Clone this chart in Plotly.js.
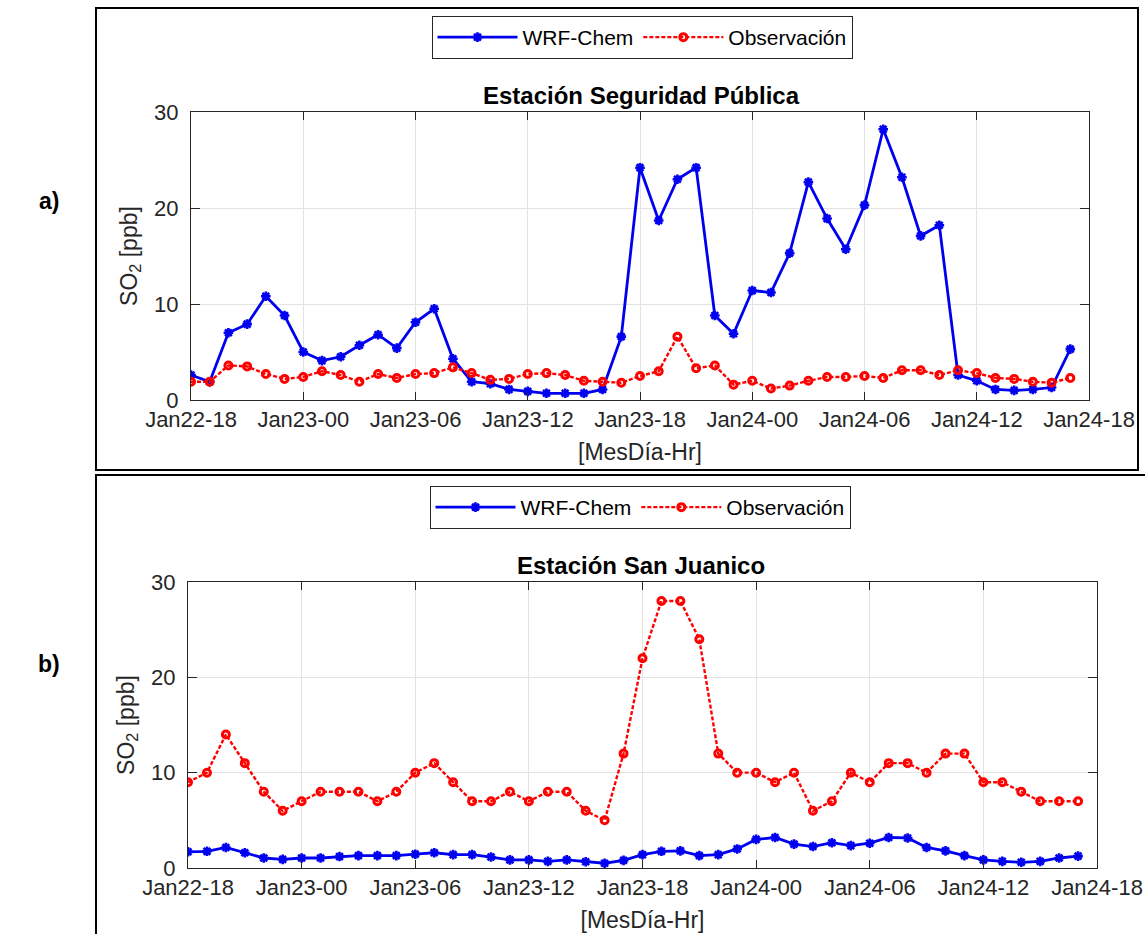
<!DOCTYPE html>
<html>
<head>
<meta charset="utf-8">
<script src="https://cdn.plot.ly/plotly-3.0.1.min.js"></script>
<style>
  html, body { margin: 0; padding: 0; background: #fff; }
  #chart { width: 1145px; height: 934px; }
</style>
</head>
<body>
<div id="chart"></div>
<script>
// ---------- DATA ----------
const startTime = '2020-01-22T18:00:00';
const nHours = 48;
const tickTimes = ['2020-01-22 18:00','2020-01-23 00:00','2020-01-23 06:00','2020-01-23 12:00',
                   '2020-01-23 18:00','2020-01-24 00:00','2020-01-24 06:00','2020-01-24 12:00','2020-01-24 18:00'];
const tickLabels = ['Jan22-18','Jan23-00','Jan23-06','Jan23-12','Jan23-18','Jan24-00','Jan24-06','Jan24-12','Jan24-18'];
const yTicks = [0, 10, 20, 30];

// Panel a) Estación Seguridad Pública
const wrfA = [2.6, 1.9, 7.0, 7.9, 10.8, 8.8, 5.0, 4.1, 4.5, 5.7, 6.8, 5.4, 8.1, 9.5, 4.3, 1.9,
              1.7, 1.1, 0.9, 0.7, 0.7, 0.7, 1.1, 6.6, 24.2, 18.7, 23.0, 24.2, 8.8, 6.9, 11.4, 11.2,
              15.3, 22.7, 18.9, 15.7, 20.3, 28.2, 23.2, 17.1, 18.2, 2.6, 2.0, 1.1, 1.0, 1.1, 1.3, 5.3];
const obsA = [1.9, 1.9, 3.6, 3.5, 2.7, 2.2, 2.4, 3.0, 2.6, 1.9, 2.7, 2.3, 2.7, 2.8, 3.4, 2.8,
              2.1, 2.2, 2.7, 2.8, 2.6, 2.0, 1.9, 1.8, 2.5, 3.0, 6.6, 3.3, 3.6, 1.6, 2.0, 1.2,
              1.5, 2.0, 2.4, 2.4, 2.5, 2.3, 3.1, 3.1, 2.6, 3.1, 2.8, 2.3, 2.2, 1.9, 1.8, 2.3];

// Panel b) Estación San Juanico
const wrfB = [1.7, 1.75, 2.15, 1.6, 1.05, 0.9, 1.05, 1.05, 1.2, 1.3, 1.3, 1.3, 1.45, 1.6, 1.4, 1.4,
              1.15, 0.85, 0.85, 0.7, 0.85, 0.65, 0.5, 0.8, 1.4, 1.75, 1.8, 1.3, 1.4, 2.0, 3.0, 3.2,
              2.5, 2.25, 2.65, 2.35, 2.6, 3.2, 3.15, 2.15, 1.8, 1.3, 0.85, 0.7, 0.6, 0.7, 1.05, 1.25];
const obsB = [9, 10, 14, 11, 8, 6, 7, 8, 8, 8, 7, 8, 10, 11, 9, 7,
              7, 8, 7, 8, 8, 6, 5, 12, 22, 28, 28, 24, 12, 10, 10, 9,
              10, 6, 7, 10, 9, 11, 11, 10, 12, 12, 9, 9, 8, 7, 7, 7];

const seriesNames = ['WRF-Chem', 'Observación'];
const panelTitles = ['Estación Seguridad Pública', 'Estación San Juanico'];
const panelLetters = ['a)', 'b)'];

// hourly time stamps (x positions are time, not data values)
const times = [];
{
  const t0 = new Date(startTime + 'Z').getTime();
  for (let i = 0; i < nHours; i++) {
    const d = new Date(t0 + i * 3600000);
    times.push(d.toISOString().slice(0, 19).replace('T', ' '));
  }
}

// ---------- LAYOUT HELPERS ----------
const W = 1145, H = 934;
const px = v => v / W;
const py = v => (H - v) / H;
const FONT = '"Liberation Sans", Arial, Helvetica, sans-serif';
const TXT = '#262626';

const blueStyle = () => ({
  mode: 'lines+markers',
  line: { color: '#0000F0', width: 2.8 },
  marker: { symbol: 'asterisk-open', size: 8, color: '#0000F0', line: { color: '#0000F0', width: 2.6 } }
});
const redStyle = () => ({
  mode: 'lines+markers',
  line: { color: '#FF0000', width: 2.4, dash: '4px,2px' },
  marker: { symbol: 'circle-open', size: 7, color: '#FF0000', line: { color: '#FF0000', width: 3 } }
});

const traces = [
  Object.assign({ x: times, y: wrfA, name: seriesNames[0], xaxis: 'x', yaxis: 'y', legend: 'legend' }, blueStyle()),
  Object.assign({ x: times, y: obsA, name: seriesNames[1], xaxis: 'x', yaxis: 'y', legend: 'legend' }, redStyle()),
  Object.assign({ x: times, y: wrfB, name: seriesNames[0], xaxis: 'x2', yaxis: 'y2', legend: 'legend2' }, blueStyle()),
  Object.assign({ x: times, y: obsB, name: seriesNames[1], xaxis: 'x2', yaxis: 'y2', legend: 'legend2' }, redStyle())
];

function xAxis(domain, anchor) {
  return {
    domain: domain, anchor: anchor, type: 'date',
    range: [tickTimes[0], tickTimes[tickTimes.length - 1]],
    tickmode: 'array', tickvals: tickTimes, ticktext: tickLabels, tickangle: 0,
    ticks: 'inside', ticklen: 8, tickwidth: 1, tickcolor: TXT,
    showline: true, linecolor: TXT, linewidth: 1, mirror: 'ticks',
    showgrid: true, gridcolor: '#E3E3E3', gridwidth: 1,
    zeroline: false,
    tickfont: { family: FONT, size: 22, color: TXT },
    title: { text: '[MesDía-Hr]', font: { family: FONT, size: 23, color: TXT }, standoff: 12 },
    fixedrange: true
  };
}
function yAxis(domain, anchor) {
  return {
    domain: domain, anchor: anchor, range: [0, 30],
    tickmode: 'array', tickvals: yTicks,
    ticks: 'inside', ticklen: 9, tickwidth: 1, tickcolor: TXT,
    showline: true, linecolor: TXT, linewidth: 1, mirror: 'ticks',
    showgrid: true, gridcolor: '#E3E3E3', gridwidth: 1,
    zeroline: false,
    ticklabelstandoff: 7,
    tickfont: { family: FONT, size: 22, color: TXT },
    title: { text: 'SO<sub>2</sub> [ppb]', font: { family: FONT, size: 23, color: TXT }, standoff: 10 },
    fixedrange: true
  };
}

const legendBase = {
  orientation: 'h', xanchor: 'center', yanchor: 'top',
  bgcolor: '#FFFFFF', bordercolor: TXT, borderwidth: 1,
  font: { family: FONT, size: 21, color: '#000' },
  itemwidth: 80, tracegroupgap: 0
};

const layout = {
  width: W, height: H,
  margin: { l: 0, r: 0, t: 0, b: 0 },
  paper_bgcolor: '#FFFFFF', plot_bgcolor: '#FFFFFF',
  font: { family: FONT, color: TXT },
  showlegend: true,
  title: {
    text: '<b>' + panelTitles[0] + '</b>',
    font: { family: FONT, size: 24, color: '#000' },
    x: px(641), xanchor: 'center', xref: 'paper',
    y: py(96), yanchor: 'middle', yref: 'container'
  },
  xaxis: xAxis([px(191), px(1089)], 'y'),
  yaxis: yAxis([py(400), py(112)], 'x'),
  xaxis2: xAxis([px(188), px(1097)], 'y2'),
  yaxis2: yAxis([py(868), py(582)], 'x2'),
  legend: Object.assign({}, legendBase, { x: px(642), y: py(16) }),
  legend2: Object.assign({}, legendBase, { x: px(640), y: py(486) }),
  annotations: [
    { text: '<b>' + panelTitles[1] + '</b>', xref: 'paper', yref: 'paper', x: px(641), y: py(565),
      xanchor: 'center', yanchor: 'middle', showarrow: false, font: { family: FONT, size: 24, color: '#000' } },
    { text: '<b>' + panelLetters[0] + '</b>', xref: 'paper', yref: 'paper', x: px(49), y: py(201),
      xanchor: 'center', yanchor: 'middle', showarrow: false, font: { family: FONT, size: 23, color: '#000' } },
    { text: '<b>' + panelLetters[1] + '</b>', xref: 'paper', yref: 'paper', x: px(49), y: py(664),
      xanchor: 'center', yanchor: 'middle', showarrow: false, font: { family: FONT, size: 23, color: '#000' } }
  ],
  shapes: [
    { type: 'rect', xref: 'paper', yref: 'paper', x0: px(96), x1: px(1138), y0: py(470), y1: py(8),
      line: { color: '#000', width: 2 }, fillcolor: 'rgba(0,0,0,0)', layer: 'below' },
    { type: 'rect', xref: 'paper', yref: 'paper', x0: px(96), x1: px(1160), y0: py(950), y1: py(475),
      line: { color: '#000', width: 2 }, fillcolor: 'rgba(0,0,0,0)', layer: 'below' }
  ]
};

Plotly.newPlot('chart', traces, layout, { displayModeBar: false, staticPlot: true });
</script>
</body>
</html>
